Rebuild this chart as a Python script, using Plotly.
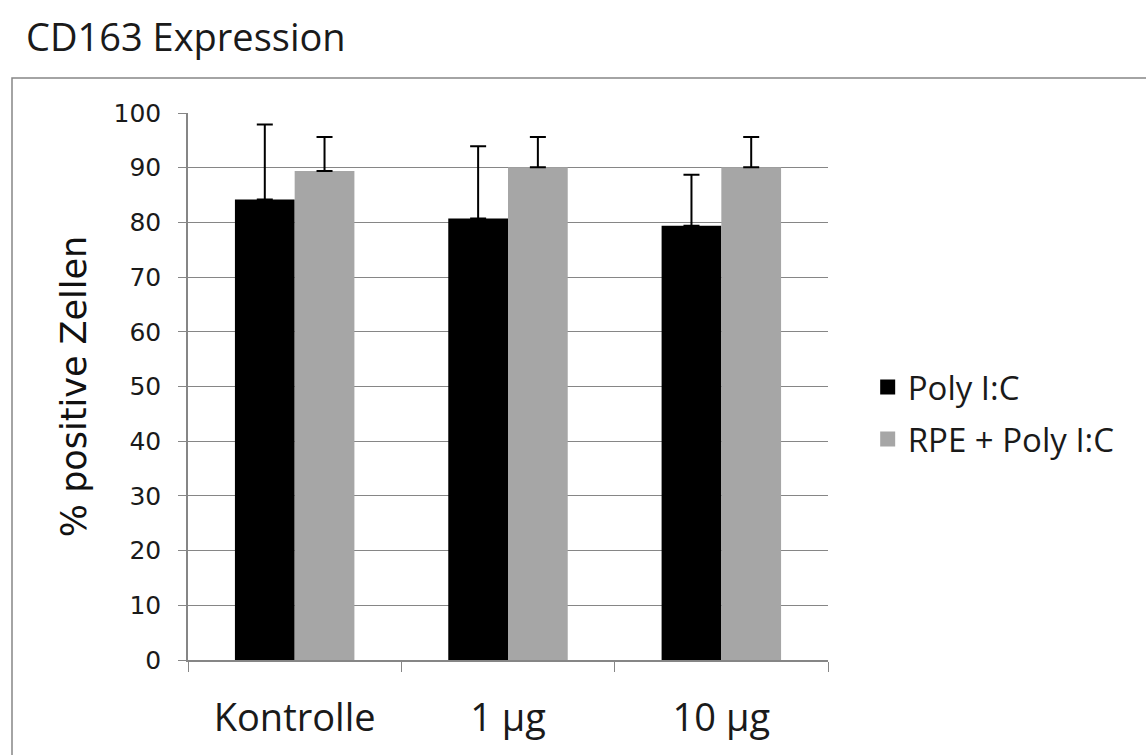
import plotly.graph_objects as go

categories = ["Kontrolle", "1 µg", "10 µg"]
series_names = ["Poly I:C", "RPE + Poly I:C"]
series_colors = ["#000000", "#a6a6a6"]
poly_values = [84.2, 80.7, 79.4]
poly_errors = [13.7, 13.2, 9.3]
rpe_values = [89.4, 90.1, 90.1]
rpe_errors = [6.2, 5.5, 5.5]
y_ticks = [0, 10, 20, 30, 40, 50, 60, 70, 80, 90, 100]

SANS = "'Open Sans', sans-serif"
WIDE = "'DejaVu Sans', sans-serif"
TXT = "#1a1a1a"

fig = go.Figure()
for name, vals, errs, col in [(series_names[0], poly_values, poly_errors, series_colors[0]),
                              (series_names[1], rpe_values, rpe_errors, series_colors[1])]:
    fig.add_trace(go.Bar(
        x=categories, y=vals, name=name, showlegend=False,
        marker=dict(color=col, line=dict(width=0)),
        error_y=dict(type="data", array=errs, arrayminus=[0] * len(errs), symmetric=False,
                     color="#000000", thickness=2, width=8),
    ))
# legend entries with larger square markers
for i, (name, col) in enumerate(zip(series_names, series_colors)):
    fig.add_trace(go.Scatter(
        x=[None], y=[None], mode="markers", name=name, legendgroup=f"g{i}",
        marker=dict(symbol="square", size=15, color=col),
    ))

fig.update_layout(
    width=1146, height=755,
    margin=dict(l=188, r=318, t=113, b=95),
    paper_bgcolor="white", plot_bgcolor="white",
    barmode="group", bargap=0.44, bargroupgap=0,
    font=dict(family=SANS, color=TXT),
    title=dict(text="CD163 Expression", x=26/1146, xanchor="left", y=1-38/755, yanchor="middle",
               font=dict(size=38, family=SANS, color=TXT)),
    legend=dict(x=1.062, y=0.55, xanchor="left", yanchor="top",
                font=dict(size=33, family=SANS, color=TXT),
                tracegroupgap=6, bgcolor="rgba(0,0,0,0)", itemwidth=30),
    showlegend=True,
)

fig.update_xaxes(
    type="category", tickson="boundaries", ticks="outside", ticklen=10, tickcolor="#868686",
    showline=True, linecolor="#868686", linewidth=1.5, showgrid=False,
    tickfont=dict(size=38, family=SANS, color=TXT), ticklabelstandoff=24,
)
fig.update_yaxes(
    range=[0, 100], tickvals=y_ticks, ticks="outside", ticklen=8, tickcolor="#868686",
    showline=True, linecolor="#868686", linewidth=1.5,
    showgrid=True, gridcolor="#868686", gridwidth=1.2, zeroline=False,
    tickfont=dict(size=25, family=WIDE, color=TXT), ticklabelstandoff=12,
    title=dict(text="% positive Zellen", font=dict(size=35, family=WIDE, color="#111111"), standoff=16),
)

# outer chart border
fig.add_shape(type="rect", xref="paper", yref="paper",
              x0=(12-188)/640, x1=(1160-188)/640, y0=(660-760)/547, y1=(660-78)/547,
              line=dict(color="#868686", width=1.5), fillcolor="rgba(0,0,0,0)", layer="below")

fig.write_html("out.html", config={"displayModeBar": False},
               post_script="document.body.style.margin='0px';")
